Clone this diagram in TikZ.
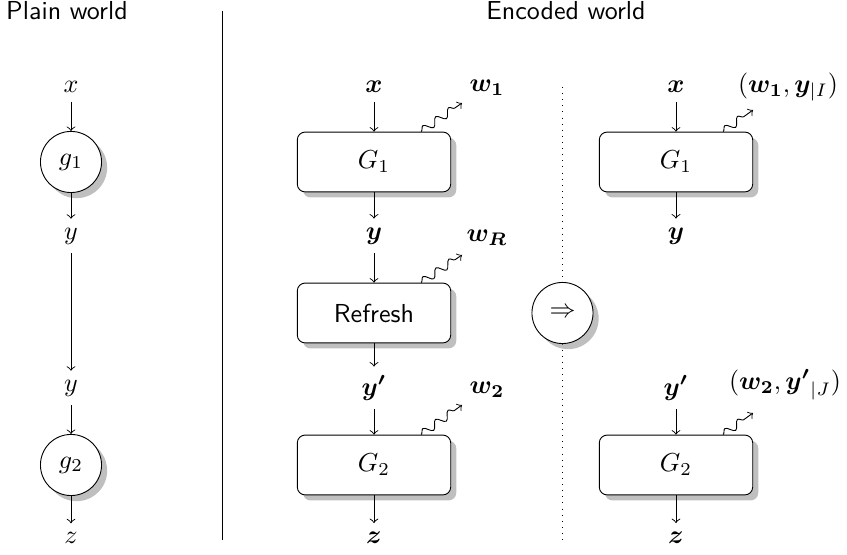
\documentclass[tikz,border=0pt]{standalone}
\usepackage{bm}
\usetikzlibrary{shadows,decorations.pathmorphing,calc}
\begin{document}
\begin{tikzpicture}[x=0.3846pt,y=-0.3846pt,
  every path/.style={line width=0.35pt},
  gbox/.style={draw, rounded corners=3pt, fill=white, minimum width=59pt, minimum height=23pt, drop shadow},
  gcirc/.style={draw, circle, fill=white, minimum size=23.5pt, inner sep=0pt, drop shadow},
  arr/.style={->},
  leak/.style={->, decorate, decoration={snake, amplitude=1.5pt, segment length=6pt, post length=2pt}},
  titletext/.style={font=\sffamily, anchor=base}]
\useasboundingbox (0,0) rectangle (847,555);
% titles
\node[titletext] (tp) at (67,20) {Plain world};
\node[titletext] (te) at (566,20) {Encoded world};
% separators
\coordinate (sepT) at (222,11);
\coordinate (sepB) at (222,540);
\draw (sepT) -- (sepB);
\coordinate (dotT) at (562.5,87);
\coordinate (dotB) at (562.5,540);
\draw[dotted] (dotT) -- (dotB);
% plain world
\node (px) at (71,87) {$x$};
\node[gcirc] (g1) at (71,162) {$g_1$};
\node (py1) at (71,236) {$y$};
\node (py2) at (71,388) {$y$};
\node[gcirc] (g2) at (71,465) {$g_2$};
\node (pz) at (71,538) {$z$};
\draw[arr] (px) -- (g1);
\draw[arr] (g1) -- (py1);
\draw[arr] (py1) -- (py2);
\draw[arr] (py2) -- (g2);
\draw[arr] (g2) -- (pz);
% encoded world, left
\node (mx) at (374,87) {$\bm{x}$};
\node[gbox] (G1) at (374,162) {$G_1$};
\node (my) at (374,236) {$\bm{y}$};
\node[gbox] (R) at (374,313) {\sffamily Refresh};
\node (myp) at (374,388) {$\bm{y'}$};
\node[gbox] (G2) at (374,465) {$G_2$};
\node (mz) at (374,538) {$\bm{z}$};
\draw[arr] (mx) -- (G1);
\draw[arr] (G1) -- (my);
\draw[arr] (my) -- (R);
\draw[arr] (R) -- (myp);
\draw[arr] (myp) -- (G2);
\draw[arr] (G2) -- (mz);
\node (w1) at (487,88) {$\bm{w_1}$};
\node (wR) at (487,238) {$\bm{w_R}$};
\node (w2) at (487,390) {$\bm{w_2}$};
\coordinate (l1) at (462,103);
\coordinate (lR) at (462,255);
\coordinate (l2) at (462,405);
\draw[leak] ($(G1.north east)+(-30,0)$) -- (l1);
\draw[leak] ($(R.north east)+(-30,0)$) -- (lR);
\draw[leak] ($(G2.north east)+(-30,0)$) -- (l2);
% implication
\node[gcirc] (imp) at (562.5,313) {$\Rightarrow$};
% encoded world, right
\node (rx) at (676,87) {$\bm{x}$};
\node[gbox] (H1) at (676,162) {$G_1$};
\node (ry) at (676,236) {$\bm{y}$};
\node (ryp) at (676,388) {$\bm{y'}$};
\node[gbox] (H2) at (676,465) {$G_2$};
\node (rz) at (676,538) {$\bm{z}$};
\draw[arr] (rx) -- (H1);
\draw[arr] (H1) -- (ry);
\draw[arr] (ryp) -- (H2);
\draw[arr] (H2) -- (rz);
\node (o1) at (788,87) {$(\bm{w_1},\bm{y}_{|I})$};
\node (o2) at (785,385) {$(\bm{w_2},{\bm{y'}}_{|J})$};
\coordinate (m1) at (753,110);
\coordinate (m2) at (753,413);
\draw[leak] ($(H1.north east)+(-30,0)$) -- (m1);
\draw[leak] ($(H2.north east)+(-30,0)$) -- (m2);
\end{tikzpicture}
\end{document}
